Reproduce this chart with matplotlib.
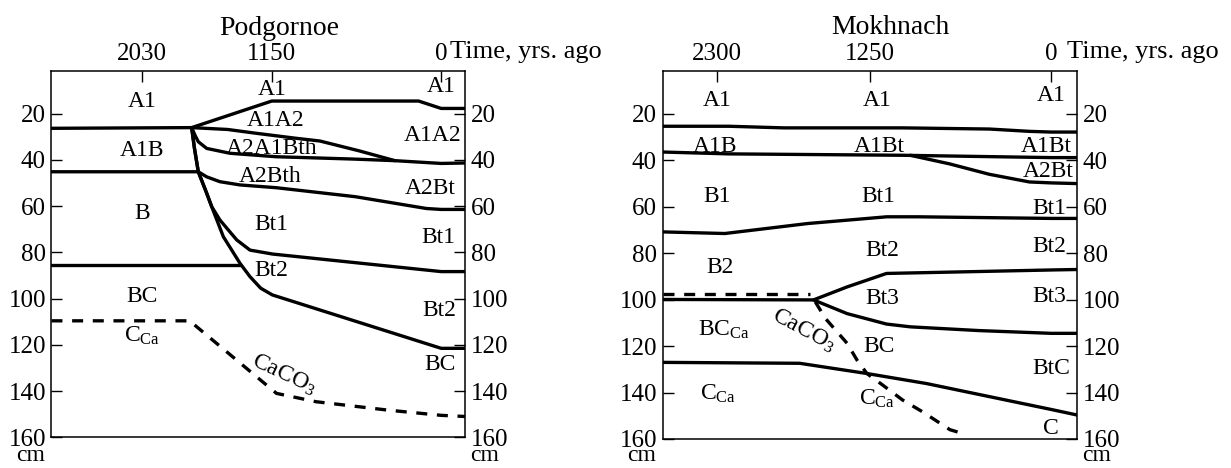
import numpy as np
import matplotlib.pyplot as plt

plt.rcParams['font.family'] = ['Liberation Serif', 'DejaVu Serif']
plt.rcParams['mathtext.fontset'] = 'custom'
plt.rcParams['mathtext.rm'] = 'Liberation Serif'
plt.rcParams['mathtext.it'] = 'Liberation Serif:italic'

# ---- Podgornoe: horizon boundaries as (years ago, depth cm)
pod_xlim = (2646, -164)
pod_ticks = [2030, 1150, 0]
pod_a1 = [(2646, 26.3), (1694, 26.0), (1150, 14.5), (153, 14.5), (0, 17.7), (-164, 17.7)]
pod_a1a2 = [(1694, 26.0), (1450, 26.8), (1250, 28.5), (1000, 30.5), (823, 31.8), (560, 36), (314, 40.3)]
pod_a2a1bth = [(1694, 26.0), (1670, 29.5), (1649, 32.1), (1592, 35), (1434, 37.1), (1120, 38.6),
               (600, 39.6), (314, 40.3), (0, 41.5), (-164, 41.3)]
pod_a1b = [(2646, 45.1), (1649, 45.1), (1592, 47.3), (1502, 49.4), (1366, 50.8), (1120, 52),
           (582, 55.9), (100, 61), (0, 61.4), (-164, 61.4)]
pod_bt1 = [(1694, 26.0), (1675, 35), (1649, 45.1), (1592, 54.4), (1558, 60.2), (1502, 66),
           (1388, 74.6), (1298, 79), (1146, 80.7), (0, 88.3), (-164, 88.3)]
pod_bt2 = [(1694, 26.0), (1675, 35), (1649, 45.1), (1592, 54.4), (1558, 60.2), (1479, 73.2),
           (1366, 84.7), (1298, 90.5), (1225, 95.5), (1146, 98.4), (0, 121.5), (-164, 121.5)]
pod_b = [(2646, 85.5), (1366, 85.5)]
pod_caco3 = [(2646, 109.6), (1708, 109.6), (1118, 141), (850, 144.6), (367, 148.2), (0, 150.5), (-164, 151)]

pod_labels = [("A1", 2030, 14.9), ("A1B", 2030, 35.7), ("B", 2030, 63), ("BC", 2030, 99),
              (r"C$_{\mathrm{Ca}}$", 2030, 116),
              ("A1", 1150, 9.7), ("A1A2", 1125, 23), ("A2A1Bth", 1150, 35), ("A2Bth", 1158, 47.2),
              ("Bt1", 1150, 68), ("Bt2", 1150, 88),
              ("A1", 0, 8.3), ("A1A2", 59, 29.2), ("A2Bt", 72, 52.3), ("Bt1", 19, 73.5),
              ("Bt2", 13, 105), ("BC", 5, 128.7)]
pod_caco3_label = (1065, 133, -25)

# ---- Mokhnach
mok_xlim = (2673, -179)
mok_ticks = [2300, 1250, 0]
mok_a1 = [(2673, 25.3), (2217, 25.3), (1838, 26), (1023, 26), (426, 26.5), (150, 27.5), (0, 27.8), (-179, 27.8)]
mok_a1b = [(2673, 36.4), (2219, 37.2), (1023, 37.8), (0, 38.8), (-179, 38.8)]
mok_a2bt = [(970, 37.8), (700, 41.5), (426, 46), (150, 49.3), (0, 49.7), (-179, 50)]
mok_b1 = [(2673, 70.8), (2245, 71.5), (1675, 67.2), (1132, 64.3), (915, 64.3), (0, 65), (-179, 65)]
mok_b2 = [(2673, 99.9), (1635, 100.1), (1404, 94.5), (1133, 88.7), (600, 88), (0, 87.2), (-179, 87)]
mok_bt3 = [(1635, 100.1), (1404, 106), (1133, 110.5), (969, 111.7), (500, 113.3), (0, 114.5), (-179, 114.5)]
mok_bc = [(2673, 127), (1730, 127.4), (1268, 131.8), (860, 136.1), (0, 147.3), (-179, 149.7)]
mok_dash_top = [(2673, 97.7), (1662, 97.7)]
mok_caco3 = [(1623, 100.9), (1553, 108.1), (1404, 118.8), (1336, 126), (1268, 131.8), (1159, 136.8),
             (1023, 143.2), (888, 148.2), (697, 156), (644, 157)]

mok_labels = [("A1", 2300, 14.1), ("A1", 1200, 14.1), ("A1", 0, 12), ("A1B", 2314, 33.9),
              ("A1Bt", 1186, 33.9), ("A1Bt", 33, 34.2), ("A2Bt", 20, 45), ("B1", 2300, 55.7),
              ("Bt1", 1186, 55.7), ("Bt1", 15, 60.7), ("B2", 2280, 86.1), ("Bt2", 1160, 78.7),
              ("Bt2", 15, 77.2), ("Bt3", 1160, 99.5), ("Bt3", 15, 98.8),
              (r"BC$_{\mathrm{Ca}}$", 2250, 112.8), ("BC", 1186, 120.3), ("BtC", 0, 129.6),
              (r"C$_{\mathrm{Ca}}$", 2290, 140.4), (r"C$_{\mathrm{Ca}}$", 1200, 142.5), ("C", 0, 155.4)]
mok_caco3_label = (1700, 113, -28)

fig = plt.figure(figsize=(12.31, 4.68), dpi=100)
ax1 = fig.add_axes([0.0418, 0.0656, 0.3362, 0.7827])
ax2 = fig.add_axes([0.5382, 0.0620, 0.3370, 0.7863])


def draw_panel(ax, title, xlim, ticks, solid, dashed, labels, caco3, time_x, cm_y):
    for pts in solid:
        x, y = zip(*pts)
        ax.plot(x, y, color='k', lw=2.4, solid_capstyle='round', solid_joinstyle='round')
    for pts in dashed:
        x, y = zip(*pts)
        ax.plot(x, y, color='k', lw=2.4, dashes=(3.3, 2.9))
    for txt, x, y in labels:
        ax.text(x, y, txt, ha='center', va='center', fontsize=17)
    cx, cy, rot = caco3
    ax.text(cx, cy, r"CaCO$_3$", ha='center', va='center', fontsize=17, rotation=rot)

    ax.set_xlim(*xlim)
    ax.set_ylim(160, 1.5)
    ax.xaxis.tick_top()
    ax.set_xticks(ticks)
    ax.set_xticklabels([str(t) for t in ticks])
    ax.set_yticks(np.arange(20, 161, 20))
    ax.tick_params(axis='x', direction='in', length=8, width=1, labelsize=18, pad=4)
    ax.tick_params(axis='y', direction='in', length=8, width=1, labelsize=18, pad=4,
                   left=True, right=True, labelleft=True, labelright=True)
    for s in ax.spines.values():
        s.set_linewidth(1.1)
    ax.text(0.55, 1.117, title, transform=ax.transAxes, ha='center', va='center', fontsize=20)
    ax.text(time_x, 1.0527, "Time, yrs. ago", transform=ax.transAxes, ha='left', va='center', fontsize=19)
    ax.text(-0.05, cm_y, "cm", transform=ax.transAxes, ha='center', va='baseline', fontsize=17)
    ax.text(1.047, cm_y, "cm", transform=ax.transAxes, ha='center', va='baseline', fontsize=17)


draw_panel(ax1, "Podgornoe", pod_xlim, pod_ticks,
           [pod_a1, pod_a1a2, pod_a2a1bth, pod_a1b, pod_bt1, pod_bt2, pod_b],
           [pod_caco3], pod_labels, pod_caco3_label, 0.962, -0.066)
draw_panel(ax2, "Mokhnach", mok_xlim, mok_ticks,
           [mok_a1, mok_a1b, mok_a2bt, mok_b1, mok_b2, mok_bt3, mok_bc],
           [mok_dash_top, mok_caco3], mok_labels, mok_caco3_label, 0.975, -0.061)

fig.savefig('out.png', dpi=100, facecolor='white')
